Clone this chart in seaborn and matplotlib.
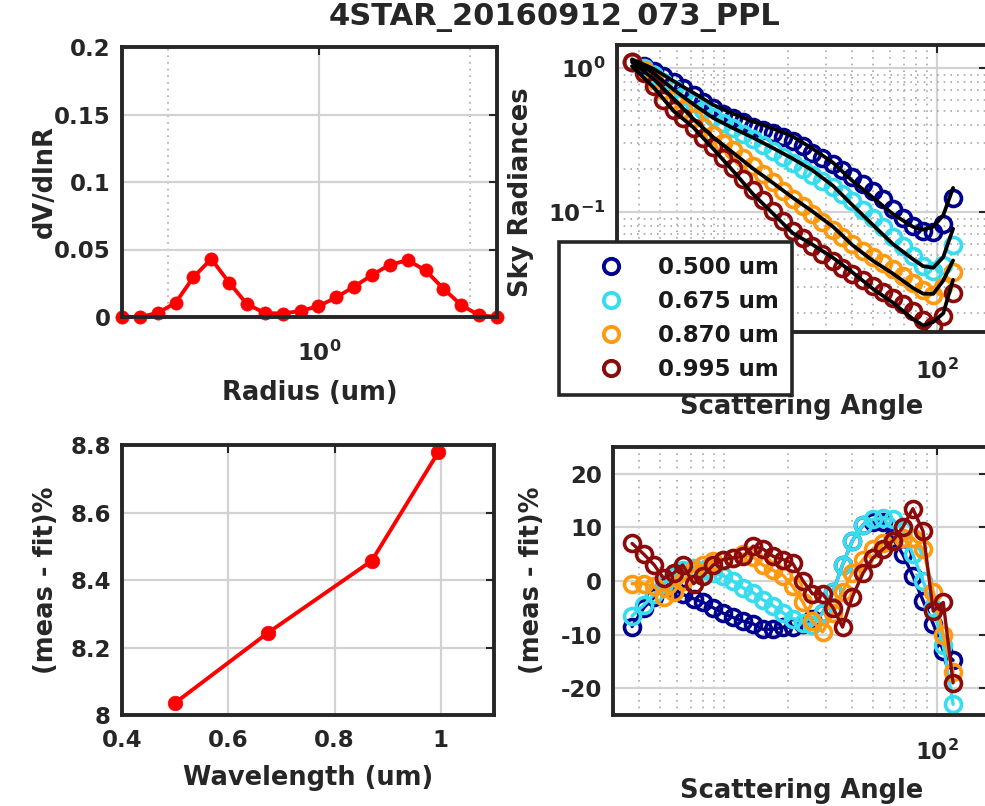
import matplotlib
matplotlib.use("Agg")
import matplotlib.pyplot as plt
import seaborn as sns
from matplotlib.ticker import FixedLocator, FixedFormatter, NullFormatter
from matplotlib.lines import Line2D

# ---------------- data ----------------
title_text = "4STAR_20160912_073_PPL"

radius = [0.05, 0.065604, 0.086077, 0.112939, 0.148184, 0.194429, 0.255105,
          0.334716, 0.439173, 0.576227, 0.756052, 0.991996, 1.301571, 1.707757,
          2.240702, 2.939966, 3.857452, 5.061260, 6.640745, 8.713145, 11.432287, 15.0]
dvdlnr = [0.0, 0.0, 0.003, 0.0105, 0.0295, 0.043, 0.0255, 0.0095, 0.003, 0.0025,
          0.0045, 0.008, 0.0145, 0.0225, 0.031, 0.0388, 0.042, 0.0345, 0.021,
          0.0088, 0.0013, 0.0]

wavelengths = [0.500, 0.675, 0.870, 0.995]
rms_resid = [8.036, 8.244, 8.457, 8.778]
wl_labels = ["0.500 um", "0.675 um", "0.870 um", "0.995 um"]

angles = [3.7, 4.2, 4.7, 5.2, 5.8, 6.4, 7.2, 8.0, 8.9, 9.9, 11.0, 12.3, 13.7, 15.2,
          17.0, 19.0, 21.0, 23.5, 26.0, 29.0, 32.5, 36.0, 40.0, 45.0, 50.0, 56.0,
          62.0, 69.0, 77.0, 86.0, 96.0, 107.0, 119.0]

sky_500 = [1.10, 1.03, 0.953, 0.880, 0.799, 0.726, 0.649, 0.581, 0.527, 0.480, 0.450,
           0.422, 0.389, 0.371, 0.354, 0.332, 0.311, 0.287, 0.257, 0.237, 0.216,
           0.196, 0.175, 0.156, 0.140, 0.123, 0.105, 0.0908, 0.080, 0.074, 0.073,
           0.0826, 0.125]
sky_675 = [1.10, 1.00, 0.894, 0.799, 0.715, 0.639, 0.572, 0.511, 0.457, 0.415, 0.383,
           0.348, 0.321, 0.292, 0.265, 0.241, 0.219, 0.199, 0.181, 0.164, 0.149,
           0.133, 0.119, 0.103, 0.0908, 0.0787, 0.0670, 0.0581, 0.0495, 0.0421,
           0.0389, 0.0428, 0.059]
sky_870 = [1.10, 0.969, 0.825, 0.704, 0.600, 0.519, 0.450, 0.389, 0.343, 0.302, 0.270,
           0.237, 0.209, 0.184, 0.162, 0.140, 0.123, 0.110, 0.0969, 0.0853, 0.075,
           0.067, 0.060, 0.0536, 0.0487, 0.0443, 0.0402, 0.0360, 0.0321, 0.0287,
           0.0265, 0.0301, 0.0383]
sky_995 = [1.10, 0.923, 0.750, 0.600, 0.511, 0.450, 0.383, 0.327, 0.283, 0.237, 0.202,
           0.170, 0.142, 0.121, 0.102, 0.0866, 0.0738, 0.0660, 0.0581, 0.0511, 0.0457,
           0.0408, 0.0371, 0.0337, 0.0306, 0.0278, 0.0253, 0.0230, 0.0205, 0.0178,
           0.0162, 0.0190, 0.0274]

fit_angles = [3.7, 4.7, 5.8, 7.2, 8.9, 11.0, 13.7, 17.0, 21.0, 26.0, 32.5, 40.0, 50.0,
              62.0, 77.0, 86.0, 96.0, 107.0, 119.0]
fit_500 = [1.15, 0.982, 0.811, 0.671, 0.555, 0.483, 0.425, 0.380, 0.335, 0.276, 0.220,
           0.165, 0.126, 0.097, 0.079, 0.0754, 0.0789, 0.095, 0.147]
fit_675 = [1.13, 0.917, 0.708, 0.558, 0.450, 0.383, 0.328, 0.278, 0.235, 0.195, 0.152,
           0.112, 0.0814, 0.060, 0.0471, 0.0421, 0.041, 0.0486, 0.0766]
fit_870 = [1.10, 0.833, 0.612, 0.441, 0.331, 0.259, 0.200, 0.159, 0.126, 0.101, 0.0790,
           0.0591, 0.0459, 0.0374, 0.0297, 0.0271, 0.0270, 0.0334, 0.0461]
fit_995 = [1.03, 0.728, 0.503, 0.385, 0.275, 0.194, 0.133, 0.0975, 0.0714, 0.0595,
           0.0481, 0.0382, 0.0293, 0.0235, 0.0181, 0.0163, 0.0172, 0.0198, 0.0338]

res_500 = [-8.5, -5, -3, -1, -1.5, -2.5, -3.3, -4, -5, -6, -6.8, -7.5, -8, -9, -9,
           -8.6, -8.6, -8, -7, -6, -2, 3, 7.5, 10.5, 11, 11, 8, 5, 1, -3.7, -8, -13, -14.8]
res_675 = [-6.5, -4.5, -2.5, -0.5, 1, 2, 2.5, 2, 1.5, 1, 0, -1.3, -2.2, -3.5, -4.6,
           -6, -7, -7.8, -8.3, -6, -2, 3, 7.5, 10.5, 11.5, 11.7, 11.5, 9.5, 5, 0, -5, -12, -23]
res_870 = [-0.5, -0.5, -1, -3, -2, 0, 2, 3, 3.7, 4, 4.3, 5, 4.5, 3, 2, 1, -1, -4, -7.5,
           -9.5, -6, -2, 1.5, 4, 6, 7, 7.5, 8, 8, 6, -2, -10, -17]
res_995 = [7, 5, 3, 0.5, 1.5, 3, -0.5, 1, 3, 4, 4.3, 4.6, 6.5, 6, 4.6, 4, 3.3, 0, -2.4,
           -2.4, -5, -8.6, -3, 1.5, 4.3, 6, 7.5, 10, 13.5, 9.3, -5.6, -4, -19]

sky_series = [sky_500, sky_675, sky_870, sky_995]
fit_series = [fit_500, fit_675, fit_870, fit_995]
res_series = [res_500, res_675, res_870, res_995]
colors = ["#00008f", "#38dcef", "#ff9a10", "#8b0a0a"]

# ---------------- style ----------------
sns.set_style("white")
plt.rcParams["font.family"] = ["DejaVu Sans"]
plt.rcParams["font.weight"] = "bold"
plt.rcParams["axes.labelweight"] = "bold"

W, H = 985, 806
fig = plt.figure(figsize=(W / 100, H / 100), dpi=100)


def px_axes(left, top, right, bottom):
    return fig.add_axes([left / W, 1 - bottom / H, (right - left) / W, (bottom - top) / H])


def px_text(x, y, s, size, rot=0):
    fig.text(x / W, 1 - y / H, s, ha="center", va="center", rotation=rot,
             fontsize=size, fontweight="bold", color="#262626")


TICK = 16.5
LAB = 18.5
SPINE = "#262626"
MAJ = dict(color="#d2d2d2", lw=1.6, ls="-")
MIN = dict(color="#a8a8a8", lw=1.2, ls=(0, (1, 3)))


def style_axes(ax, xpad=8):
    ax.set_axisbelow(True)
    for s in ax.spines.values():
        s.set_linewidth(2.8)
        s.set_color(SPINE)
    ax.tick_params(which="major", direction="in", length=6, width=1.5, top=True,
                   right=True, labelsize=TICK, pad=8, colors=SPINE)
    ax.tick_params(axis="x", which="major", pad=xpad)
    ax.tick_params(which="minor", length=0)
    for lab in ax.get_xticklabels() + ax.get_yticklabels():
        lab.set_fontweight("bold")


ax1 = px_axes(122, 47, 497, 317)
ax2 = px_axes(617, 45, 987, 332)
ax3 = px_axes(122, 445, 494, 715)
ax4 = px_axes(613, 447, 987, 715)

# ---------- top-left: size distribution ----------
ax1.set_xscale("log")
sns.lineplot(x=radius, y=dvdlnr, ax=ax1, color="red", lw=2.8, marker="o",
             markersize=9.5, markeredgecolor="red", markeredgewidth=0.5,
             sort=False, errorbar=None)
for ln in ax1.lines:
    ln.set_clip_on(False)
ax1.set_xlim(0.05, 15)
ax1.set_ylim(0, 0.2)
ax1.xaxis.set_major_locator(FixedLocator([1]))
ax1.xaxis.set_major_formatter(FixedFormatter([r"$\mathbf{10^{0}}$"]))
ax1.xaxis.set_minor_locator(FixedLocator([0.1, 10]))
ax1.xaxis.set_minor_formatter(NullFormatter())
ax1.yaxis.set_major_locator(FixedLocator([0, 0.05, 0.1, 0.15, 0.2]))
ax1.yaxis.set_major_formatter(FixedFormatter(["0", "0.05", "0.1", "0.15", "0.2"]))
ax1.grid(which="major", **MAJ)
ax1.grid(which="minor", axis="x", **MIN)
ax1.set_xlabel("")
ax1.set_ylabel("")
style_axes(ax1, xpad=17)

# ---------- top-right: sky radiances ----------
ax2.set_xscale("log")
ax2.set_yscale("log")
for sky, c in zip(sky_series, colors):
    sns.lineplot(x=angles, y=sky, ax=ax2, color=c, linestyle="none", marker="o",
                 markersize=11.5, markerfacecolor="none", markeredgecolor=c,
                 markeredgewidth=2.6, sort=False, errorbar=None)
for fit in fit_series:
    sns.lineplot(x=fit_angles, y=fit, ax=ax2, color="black", lw=2.7,
                 sort=False, errorbar=None)
ax2.set_xlim(3.146, 171.7)
ax2.set_ylim(0.01468, 1.445)
minor_x = [4, 5, 6, 7, 8, 9, 10, 20, 30, 40, 50, 60, 70, 80, 90]
ax2.xaxis.set_major_locator(FixedLocator([100]))
ax2.xaxis.set_major_formatter(FixedFormatter([r"$\mathbf{10^{2}}$"]))
ax2.xaxis.set_minor_locator(FixedLocator(minor_x))
ax2.xaxis.set_minor_formatter(NullFormatter())
ax2.yaxis.set_major_locator(FixedLocator([0.1, 1]))
ax2.yaxis.set_major_formatter(FixedFormatter([r"$\mathbf{10^{-1}}$", r"$\mathbf{10^{0}}$"]))
ax2.yaxis.set_minor_locator(FixedLocator([0.02, 0.03, 0.04, 0.05, 0.06, 0.07, 0.08, 0.09,
                                          0.2, 0.3, 0.4, 0.5, 0.6, 0.7, 0.8, 0.9]))
ax2.yaxis.set_minor_formatter(NullFormatter())
ax2.grid(which="major", **MAJ)
ax2.grid(which="minor", **MIN)
ax2.set_xlabel("")
ax2.set_ylabel("")
style_axes(ax2, xpad=19)

handles = [Line2D([], [], linestyle="none", marker="o", markersize=11,
                  markerfacecolor="none", markeredgecolor=c, markeredgewidth=2.8)
           for c in colors]
leg = ax2.legend(handles, wl_labels, loc="upper left",
                 bbox_to_anchor=(559 / W, 1 - 242 / H), bbox_transform=fig.transFigure,
                 borderaxespad=0, frameon=True, fancybox=False, framealpha=1,
                 edgecolor=SPINE, prop={"weight": "bold", "size": 16.5},
                 handlelength=3.3, handletextpad=0.4, labelspacing=0.48,
                 borderpad=0.6)
leg.get_frame().set_linewidth(2.6)
for t in leg.get_texts():
    t.set_color("#1a1a1a")

# ---------- bottom-left: residual vs wavelength ----------
sns.lineplot(x=wavelengths, y=rms_resid, ax=ax3, color="red", lw=2.8, marker="o",
             markersize=10.5, markeredgecolor="red", markeredgewidth=0.5,
             sort=False, errorbar=None)
for ln in ax3.lines:
    ln.set_clip_on(False)
ax3.set_xlim(0.4, 1.1)
ax3.set_ylim(8, 8.8)
ax3.xaxis.set_major_locator(FixedLocator([0.4, 0.6, 0.8, 1.0]))
ax3.xaxis.set_major_formatter(FixedFormatter(["0.4", "0.6", "0.8", "1"]))
ax3.yaxis.set_major_locator(FixedLocator([8, 8.2, 8.4, 8.6, 8.8]))
ax3.yaxis.set_major_formatter(FixedFormatter(["8", "8.2", "8.4", "8.6", "8.8"]))
ax3.grid(which="major", **MAJ)
ax3.set_xlabel("")
ax3.set_ylabel("")
style_axes(ax3, xpad=10)

# ---------- bottom-right: residual vs angle ----------
ax4.set_xscale("log")
for res, c in zip(res_series, colors):
    sns.lineplot(x=angles, y=res, ax=ax4, color=c, lw=2.4, marker="o",
                 markersize=11.5, markerfacecolor="none", markeredgecolor=c,
                 markeredgewidth=2.6, sort=False, errorbar=None)
ax4.set_xlim(3.01, 171.7)
ax4.set_ylim(-25, 25)
ax4.xaxis.set_major_locator(FixedLocator([100]))
ax4.xaxis.set_major_formatter(FixedFormatter([r"$\mathbf{10^{2}}$"]))
ax4.xaxis.set_minor_locator(FixedLocator(minor_x))
ax4.xaxis.set_minor_formatter(NullFormatter())
ax4.yaxis.set_major_locator(FixedLocator([-20, -10, 0, 10, 20]))
ax4.yaxis.set_major_formatter(FixedFormatter(["-20", "-10", "0", "10", "20"]))
ax4.grid(which="major", **MAJ)
ax4.grid(which="minor", axis="x", **MIN)
ax4.set_xlabel("")
ax4.set_ylabel("")
style_axes(ax4, xpad=18)

# ---------- labels ----------
px_text(555, 18, title_text, 22)
px_text(45, 182, "dV/dlnR", LAB, 90)
px_text(310, 393, "Radius (um)", LAB)
px_text(521, 192, "Sky Radiances", LAB, 90)
px_text(802, 407, "Scattering Angle", LAB)
px_text(46, 580, "(meas - fit)%", LAB, 90)
px_text(308, 778, "Wavelength (um)", LAB)
px_text(532, 580, "(meas - fit)%", LAB, 90)
px_text(802, 791, "Scattering Angle", LAB)

fig.savefig("out.png", dpi=100)
